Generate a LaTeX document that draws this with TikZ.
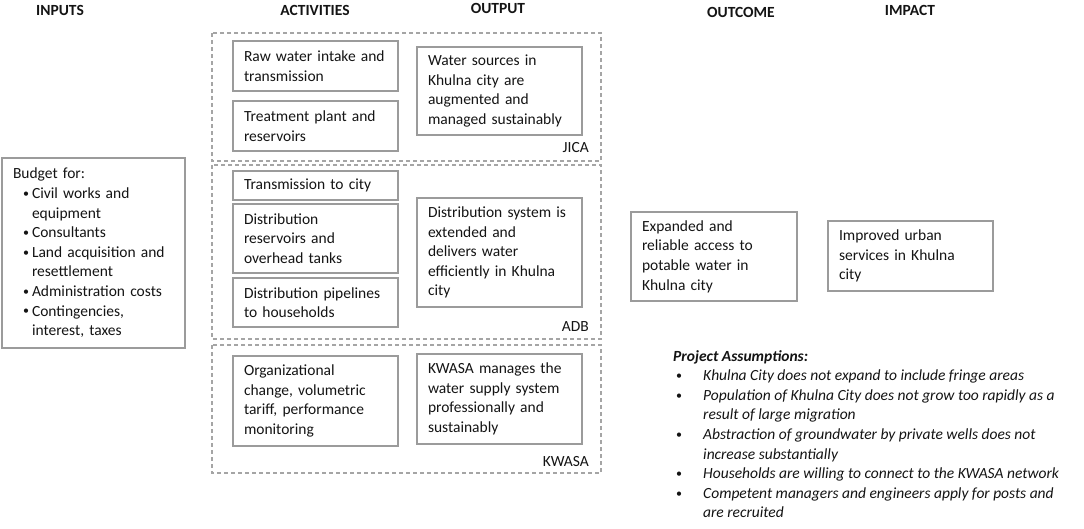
\documentclass[tikz,border=0pt]{standalone}
\usepackage{fontspec}
\setmainfont{Carlito}
\definecolor{boxgray}{RGB}{155,155,155}
\definecolor{dashgray}{RGB}{165,165,165}
\definecolor{txt}{RGB}{20,20,20}
\newcommand{\dotmark}{\raisebox{1.2pt}{\fontsize{12}{12}\selectfont•}}
\newcommand{\bul}{\makebox[19pt][l]{\hspace{10pt}\dotmark}}
\newcommand{\ind}{\hspace*{19pt}}
\newcommand{\abul}{\makebox[30pt][l]{\hspace{3pt}\dotmark}}
\newcommand{\aind}{\hspace*{30pt}}
\begin{document}
\begin{tikzpicture}[x=1pt,y=-1pt,
  every node/.style={text=txt},
  bodyfont/.style={font=\fontsize{15.5}{19.6}\selectfont},
  head/.style={font=\fontsize{15.5}{19.6}\selectfont\bfseries},
  box/.style={draw=boxgray, line width=1.4pt, bodyfont, align=left,
    inner xsep=11pt, inner ysep=0pt, text width=#1-22pt, minimum width=#1},
  box/.default=165pt,
  grp/.style={draw=dashgray, line width=1.2pt, dash pattern=on 4pt off 3pt},
  lbl/.style={bodyfont, anchor=east, inner sep=0pt}
]
\useasboundingbox (0,0) rectangle (1084,528);
\fill[white] (0,0) rectangle (1084,528);

% headers
\node[head] (hin) at (60,10) {INPUTS};
\node[head] (hact) at (315,10) {ACTIVITIES};
\node[head] (hout) at (498,8) {OUTPUT};
\node[head] (hoc) at (741,12) {OUTCOME};
\node[head] (him) at (910,10) {IMPACT};

% dashed groups
\draw[grp] (212,33) rectangle (601,161);
\draw[grp] (212,165) rectangle (601,339);
\draw[grp] (212,345) rectangle (601,473);
\node[lbl] (ljica) at (589,148) {JICA};
\node[lbl] (ladb) at (589,327) {ADB};
\node[lbl] (lkwasa) at (589,462) {KWASA};

% JICA
\node[box, minimum height=50pt] (raw) at (315.5,66) {Raw water intake and\\transmission};
\node[box, minimum height=50pt] (treat) at (315.5,126) {Treatment plant and\\reservoirs};
\node[box, minimum height=88pt] (water) at (499.5,91) {Water sources in\\Khulna city are\\augmented and\\managed sustainably};

% ADB
\node[box, minimum height=29pt] (trans) at (315.5,185.5) {Transmission to city};
\node[box, minimum height=69pt] (distres) at (315.5,238.5) {Distribution\\reservoirs and\\overhead tanks};
\node[box, minimum height=49pt] (distpipe) at (315.5,302.5) {Distribution pipelines\\to households};
\node[box, minimum height=109pt] (distsys) at (499.5,252.5) {Distribution system is\\extended and\\delivers water\\efficiently in Khulna\\city};

% KWASA
\node[box, minimum height=90pt] (org) at (315.5,401) {Organizational\\change, volumetric\\tariff, performance\\monitoring};
\node[box, minimum height=90pt] (kw) at (499.5,399) {KWASA manages the\\water supply system\\professionally and\\sustainably};

% inputs
\node[box=183pt, minimum height=190pt] (budget) at (93.5,253) {Budget for:\\
\bul Civil works and\\\ind equipment\\
\bul Consultants\\
\bul Land acquisition and\\\ind resettlement\\
\bul Administration costs\\
\bul Contingencies,\\\ind interest, taxes};

% outcome / impact
\node[box=166pt, minimum height=89pt] (outc) at (714,256.5) {Expanded and\\reliable access to\\potable water in\\Khulna city};
\node[box=165pt, minimum height=70pt] (imp) at (910.5,256) {Improved urban\\services in Khulna\\city};

% assumptions
\node[bodyfont, align=left, anchor=north west, inner sep=0pt] (assume) at (673,350) {\textbf{\textit{Project Assumptions:}}\\
\abul\textit{Khulna City does not expand to include fringe areas}\\
\abul\textit{Population of Khulna City does not grow too rapidly as a}\\
\aind\textit{result of large migration}\\
\abul\textit{Abstraction of groundwater by private wells does not}\\
\aind\textit{increase substantially}\\
\abul\textit{Households are willing to connect to the KWASA network}\\
\abul\textit{Competent managers and engineers apply for posts and}\\
\aind\textit{are recruited}};
\end{tikzpicture}
\end{document}
